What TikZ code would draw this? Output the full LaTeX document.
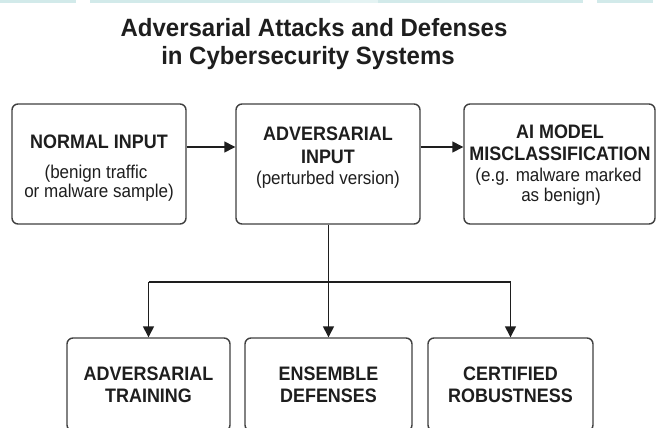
\documentclass[tikz,border=0pt]{standalone}
\usepackage{fontspec}
\setmainfont[FakeStretch=0.92]{Liberation Sans}
\newfontfamily\titlefont[FakeStretch=0.96]{Liberation Sans}
\usetikzlibrary{arrows.meta}
\definecolor{ink}{HTML}{1E1E1E}
\definecolor{edgegray}{HTML}{404040}
\definecolor{stripteal}{HTML}{D2EAEA}
\begin{document}
\begin{tikzpicture}[x=1pt,y=-1pt,
  box/.style={draw=edgegray, line width=1.4pt, rounded corners=6pt, fill=white, inner sep=0pt},
  ttl/.style={font=\titlefont\fontsize{25}{29}\selectfont\bfseries, text=ink, anchor=base, inner sep=0pt},
  lbl/.style={font=\fontsize{19.5}{22}\selectfont\bfseries, text=ink, anchor=base, inner sep=0pt},
  sub/.style={font=\fontsize{18.5}{21}\selectfont, text=ink, anchor=base, inner sep=0pt},
  conn/.style={draw=ink, line width=1.4pt},
  arr/.style={conn, -{Triangle[length=11pt,width=11pt]}}
]
\useasboundingbox (0,0) rectangle (656,428);
\clip (0,0) rectangle (656,428);
\fill[white] (0,0) rectangle (656,428);
% top strip
\fill[stripteal] (0,0) rectangle (76,3.5);
\fill[stripteal] (90,0) rectangle (330,3.5);
\fill[stripteal!60] (330,0) rectangle (378,3.5);
\fill[stripteal] (378,0) rectangle (583,3.5);
\fill[stripteal] (597,0) rectangle (653,3.5);

% title
\node[ttl] (title1) at (314,37) {Adversarial Attacks and Defenses};
\node[ttl] (title2) at (308,65) {in Cybersecurity Systems};

% top boxes
\node[box, minimum width=174pt, minimum height=120pt] (n1) at (99,164) {};
\node[box, minimum width=184pt, minimum height=120pt] (n2) at (328,164) {};
\node[box, minimum width=191pt, minimum height=120pt] (n3) at (559.5,164) {};

% bottom boxes
\node[box, minimum width=163pt, minimum height=93pt] (n4) at (148.5,384.5) {};
\node[box, minimum width=167pt, minimum height=93pt] (n5) at (328.5,384.5) {};
\node[box, minimum width=165pt, minimum height=93pt] (n6) at (510.5,384.5) {};

% texts
\node[lbl] (t1a) at (99,148) {NORMAL INPUT};
\node[sub] (t1b) at (96,178) {(benign traffic};
\node[sub] (t1c) at (99,197.5) {or malware sample)};

\node[lbl] (t2a) at (328,140) {ADVERSARIAL};
\node[lbl] (t2b) at (328,163) {INPUT};
\node[sub] (t2c) at (328,184) {(perturbed version)};

\node[lbl] (t3a) at (560,138) {AI MODEL};
\node[lbl] (t3b) at (560,160) {MISCLASSIFICATION};
\node[sub] (t3c) at (558.5,181) {(e.g. malware marked};
\node[sub] (t3d) at (561,201.5) {as benign)};

\node[lbl] (t4a) at (148.5,380) {ADVERSARIAL};
\node[lbl] (t4b) at (148.5,402.5) {TRAINING};
\node[lbl] (t5a) at (328.5,380) {ENSEMBLE};
\node[lbl] (t5b) at (328.5,402.5) {DEFENSES};
\node[lbl] (t6a) at (510.5,380) {CERTIFIED};
\node[lbl] (t6b) at (510.5,402.5) {ROBUSTNESS};

% connectors
\draw[arr] ([yshift=17pt]n1.east) -- ([yshift=17pt]n2.west);
\draw[arr] ([yshift=17pt]n2.east) -- ([yshift=17pt]n3.west);
\coordinate (br) at (328.5,282);
\draw[arr] (n2.south -| n5.north) -- (n5.north);
\draw[conn] (n4.north |- br) -- (n6.north |- br);
\draw[arr] (n4.north |- br) -- (n4.north);
\draw[arr] (n6.north |- br) -- (n6.north);
\end{tikzpicture}
\end{document}
